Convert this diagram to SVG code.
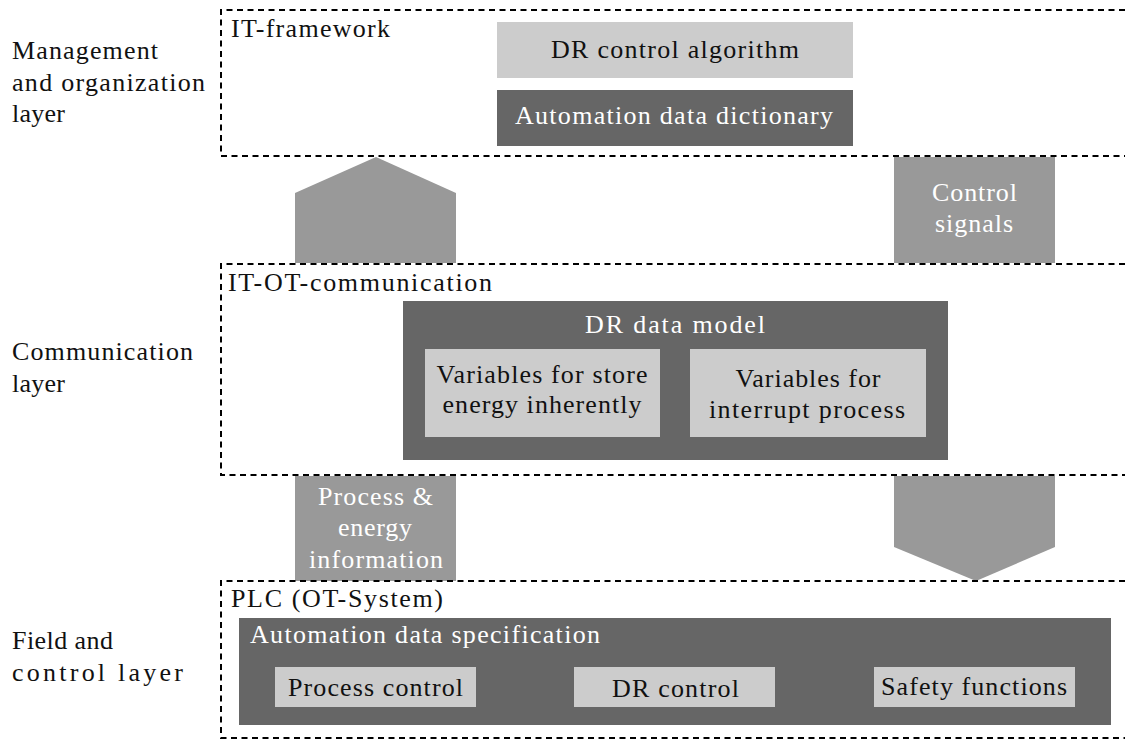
<svg xmlns="http://www.w3.org/2000/svg" width="1125" height="740" viewBox="0 0 1125 740">
<style>
text{font-family:"Liberation Serif","DejaVu Serif","Noto Serif","Tinos","Times New Roman",Times,"FreeSerif","Nimbus Roman","Nimbus Roman No9 L",Georgia,serif;font-size:26px;fill:#111}
.w{fill:#fff}
.c{text-anchor:middle}
.dash{fill:none;stroke:#000;stroke-width:2;stroke-dasharray:6 4.5}
.light{fill:#cccccc}
.dark{fill:#666666}
.mid{fill:#999999}
</style>
<rect width="1125" height="740" fill="#fff"/>
<g id="connectors">
<path class="mid" d="M295 263V193L376 157L456 193V263Z"/>
<rect class="mid" x="894" y="157" width="161" height="106"/>
<text class="c w" x="974.5" y="201" textLength="85">Control</text>
<text class="c w" x="974" y="232" textLength="78">signals</text>
<rect class="mid" x="295" y="476" width="161" height="105"/>
<text class="c w" x="375.5" y="505" textLength="115">Process &amp;</text>
<text class="c w" x="375" y="536" textLength="74">energy</text>
<text class="c w" x="376" y="568" textLength="134">information</text>
<path class="mid" d="M894 476H1055V547L976 581L894 547Z"/>
</g>
<g id="layer-labels">
<text x="12" y="59" textLength="146">Management</text>
<text x="12" y="91" textLength="193">and organization</text>
<text x="12" y="122" textLength="53">layer</text>
<text x="12" y="360" textLength="181">Communication</text>
<text x="12" y="392" textLength="53">layer</text>
<text x="12" y="649" textLength="101">Field and</text>
<text x="12" y="681" textLength="171">control layer</text>
</g>
<g id="it-framework">
<path class="dash" d="M1125 10H221V156H1125"/>
<text x="231" y="37" textLength="159">IT-framework</text>
</g>
<g id="dr-control-algorithm">
<rect class="light" x="497" y="22" width="356" height="56"/>
<text class="c" x="675" y="58" textLength="248">DR control algorithm</text>
</g>
<g id="automation-data-dictionary">
<rect class="dark" x="497" y="90" width="356" height="56"/>
<text class="c w" x="674" y="124" textLength="318">Automation data dictionary</text>
</g>
<g id="it-ot-communication">
<path class="dash" d="M1125 264H221V475H1125"/>
<text x="228" y="291" textLength="264">IT-OT-communication</text>
</g>
<g id="dr-data-model">
<rect class="dark" x="403" y="301" width="545" height="159"/>
<text class="c w" x="675" y="333" textLength="180">DR data model</text>
</g>
<g id="vars-store">
<rect class="light" x="425" y="349" width="235" height="88"/>
<text class="c" x="542" y="383" textLength="211">Variables for store</text>
<text class="c" x="542" y="413" textLength="199">energy inherently</text>
</g>
<g id="vars-interrupt">
<rect class="light" x="690" y="349" width="236" height="88"/>
<text class="c" x="808" y="387" textLength="145">Variables for</text>
<text class="c" x="807" y="418" textLength="196">interrupt process</text>
</g>
<g id="plc">
<path class="dash" d="M1125 581H221V738H1125"/>
<text x="231" y="607" textLength="212">PLC (OT-System)</text>
</g>
<g id="automation-data-specification">
<rect class="dark" x="239" y="618" width="872" height="107"/>
<text class="w" x="250" y="643" textLength="350">Automation data specification</text>
</g>
<g id="process-control">
<rect class="light" x="275" y="667" width="201" height="40"/>
<text class="c" x="375.5" y="696" textLength="175">Process control</text>
</g>
<g id="dr-control">
<rect class="light" x="574" y="667" width="201" height="40"/>
<text class="c" x="675.5" y="697" textLength="127">DR control</text>
</g>
<g id="safety-functions">
<rect class="light" x="874" y="667" width="201" height="40"/>
<text class="c" x="974" y="695" textLength="186">Safety functions</text>
</g>
</svg>
